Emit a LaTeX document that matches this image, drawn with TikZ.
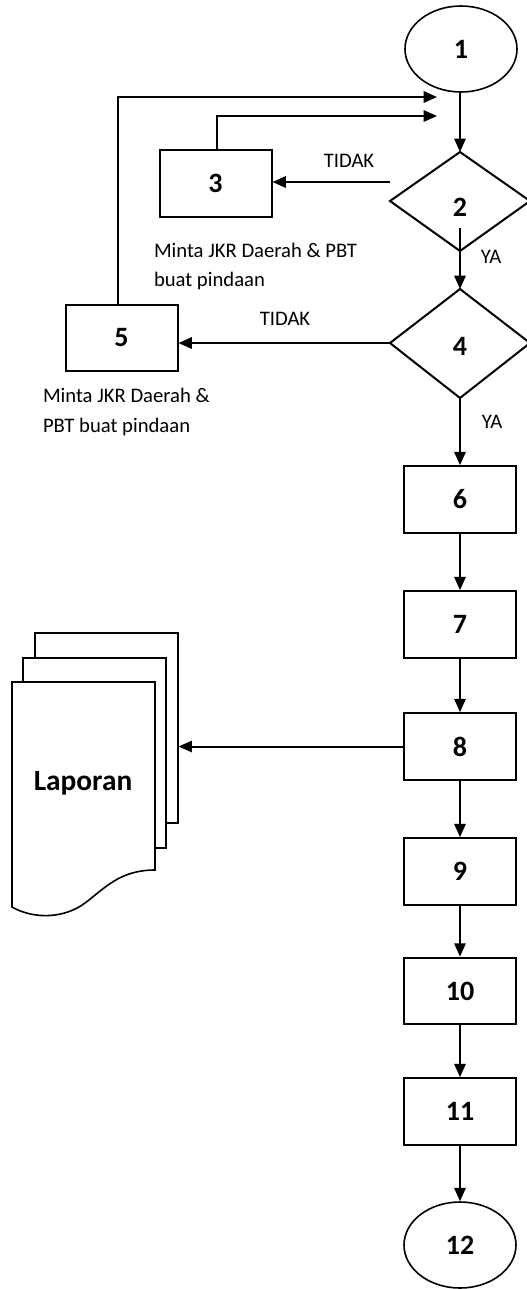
\documentclass[tikz,border=0pt]{standalone}
\usepackage{fontspec}
\setmainfont{Carlito}
\usetikzlibrary{arrows.meta,shapes.geometric}
\begin{document}
\begin{tikzpicture}[x=0.75pt,y=-0.75pt,
  line width=1.5pt,
  arr/.style={-{Triangle[length=10pt,width=8.5pt]}},
  big/.style={font=\fontsize{21}{25}\selectfont\bfseries},
  lbl/.style={font=\fontsize{15.5}{20}\selectfont, inner sep=0pt},
  proc/.style={draw, rectangle, minimum width=84pt, minimum height=50pt, inner sep=0pt, big},
  term/.style={draw, ellipse, line width=1.2pt, minimum width=84pt, minimum height=64.5pt, inner sep=0pt, big},
  page/.style={draw, fill=white, line width=1.2pt}
]
\useasboundingbox (0,0) rectangle (526,1289);

% terminals
\node[term] (e1) at (461,49) {1};
\node[term] (e12) at (460,1245) {12};

% decisions
\coordinate (d2l) at (390,201); \coordinate (d2t) at (460,152);
\coordinate (d2r) at (530,201); \coordinate (d2b) at (460,251);
\draw (d2l) -- (d2t) -- (d2r) -- (d2b) -- cycle;
\node[big] (d2) at (460,207) {2};
\coordinate (d4l) at (390,343); \coordinate (d4t) at (460,289);
\coordinate (d4r) at (530,343); \coordinate (d4b) at (460,398);
\draw (d4l) -- (d4t) -- (d4r) -- (d4b) -- cycle;
\node[big] (d4) at (460,346) {4};

% side boxes
\node[proc] (b3) at (215.5,183.5) {3};
\node[proc] (b5) at (121.5,338) {5};

% main column boxes
\node[proc] (b6) at (460,499.5) {6};
\node[proc] (b7) at (460,624.5) {7};
\node[proc] (b8) at (460,746.5) {8};
\node[proc] (b9) at (460,871.5) {9};
\node[proc] (b10) at (460,991) {10};
\node[proc] (b11) at (460,1111.5) {11};

% document stack
\node[page, rectangle, minimum width=107pt, minimum height=142.5pt, inner sep=0pt] (doc3) at (106.5,728) {};
\draw[page] (23,658) rectangle (166,848);
\draw[page] (12,682) -- (155,682) -- (155,870)
  .. controls (120,870) and (105,888) .. (85,903)
  .. controls (65,918) and (35,920) .. (12,907) -- cycle;
\node[font=\fontsize{22}{26}\selectfont\bfseries, anchor=base] (lap) at (83,790) {Laporan};

% merge points
\coordinate (m1) at (437,97);
\coordinate (m2) at (437,116);
\coordinate (t2) at (390,182);
\coordinate (s2) at (460,228);

% connectors
\draw[arr] (e1.south -| d2t) -- (d2t);
\draw[arr] (b5.north -| 118,0) -- (118,97) -- (m1);
\draw[arr] (b3.north -| 217,0) -- (217,116) -- (m2);
\draw[arr] (t2) -- (t2 -| b3.east);
\draw[arr] (s2) -- (d4t);
\draw[arr] (d4l) -- (d4l -| b5.east);
\draw[arr] (d4b) -- (b6.north);
\draw[arr] (b6) -- (b7);
\draw[arr] (b7) -- (b8);
\draw[arr] (b8.west) -- (b8.west -| doc3.east);
\draw[arr] (b8) -- (b9);
\draw[arr] (b9) -- (b10);
\draw[arr] (b10) -- (b11);
\draw[arr] (b11) -- (e12);

% labels
\node[lbl, anchor=base] (tid1) at (349,167) {TIDAK};
\node[lbl, anchor=base] (tid2) at (285,325) {TIDAK};
\node[lbl, anchor=base] (ya1) at (491,263) {YA};
\node[lbl, anchor=base] (ya2) at (492,428) {YA};
\node[lbl, anchor=base west] (n3a) at (153,257) {Minta JKR Daerah \& PBT};
\node[lbl, anchor=base west] (n3b) at (153,286) {buat pindaan};
\node[lbl, anchor=base west] (n5a) at (42,402) {Minta JKR Daerah \&};
\node[lbl, anchor=base west] (n5b) at (42,432) {PBT buat pindaan};
\end{tikzpicture}
\end{document}
